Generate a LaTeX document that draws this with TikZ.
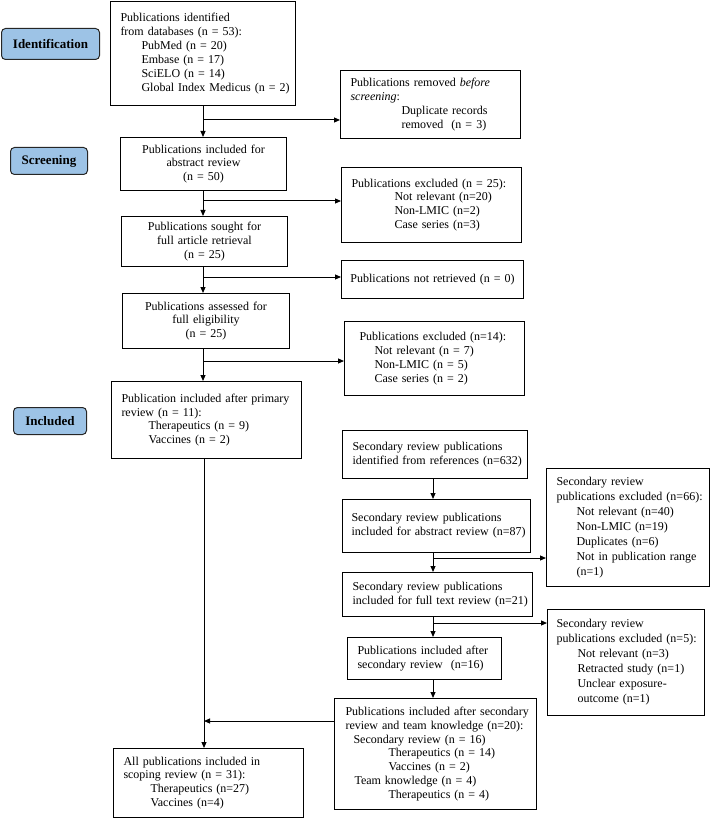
\documentclass[tikz,border=0pt]{standalone}
\usepackage{fontspec}
\setmainfont{Liberation Serif}
\usetikzlibrary{arrows.meta,calc}
\definecolor{lblue}{HTML}{9DC3E6}
\newcommand\ind[1]{\hspace*{#1pt}}
\begin{document}
\begin{tikzpicture}[x=1pt,y=-1pt,
  box/.style={draw=black, line width=1pt, anchor=north west, inner xsep=0pt, inner ysep=0pt, font=\fontsize{12}{13.9}\selectfont},
  lbox/.style={box, align=left},
  cbox/.style={box, align=center},
  stage/.style={draw=black!85, line width=1pt, fill=lblue, rounded corners=4pt, anchor=north west, inner sep=0pt, font=\fontsize{13}{15}\selectfont\bfseries},
  arr/.style={line width=1pt, -{Triangle[length=6pt,width=5pt]}},
  conn/.style={line width=1pt}
]
\useasboundingbox (0,0) rectangle (710,818);

% stage labels
\node[stage, minimum width=98pt, minimum height=31pt] (lid) at (1,28) {Identification};
\node[stage, minimum width=77pt, minimum height=27pt] (lsc) at (10,147) {Screening};
\node[stage, minimum width=73pt, minimum height=27pt] (lin) at (13,407) {Included};

% main chain
\node[lbox, text width=185pt, minimum height=104pt] (ident) at (110,1)
  {\leftskip=10pt Publications identified\\from databases (n = 53):\\\ind{21}PubMed (n = 20)\\\ind{21}Embase (n = 17)\\\ind{21}SciELO (n = 14)\\\ind{21}Global Index Medicus (n = 2)\par};
\node[lbox, text width=180pt, minimum height=68pt] (removed) at (340,70)
  {\leftskip=10pt Publications removed \textit{before}\\\textit{screening}:\\\ind{51}Duplicate records\\\ind{51}removed\ \ (n = 3)\par};
\node[cbox, text width=166pt, minimum height=53pt] (abs) at (120,137)
  {Publications included for\\abstract review\\(n = 50)};
\node[lbox, text width=180pt, minimum height=75pt] (excla) at (341,167)
  {\leftskip=10pt Publications excluded (n = 25):\\\ind{43}Not relevant (n=20)\\\ind{43}Non-LMIC (n=2)\\\ind{43}Case series (n=3)\par};
\node[cbox, text width=166pt, minimum height=50pt] (sought) at (121,216)
  {Publications sought for\\full article retrieval\\(n = 25)};
\node[cbox, text width=182pt, minimum height=38pt] (notret) at (341,260)
  {Publications not retrieved (n = 0)};
\node[cbox, text width=167pt, minimum height=55pt] (assessed) at (122,293)
  {Publications assessed for\\full eligibility\\(n = 25)};
\node[lbox, text width=180pt, minimum height=74pt] (exclb) at (344,321)
  {\leftskip=15pt Publications excluded (n=14):\\\ind{15}Not relevant (n = 7)\\\ind{15}Non-LMIC (n = 5)\\\ind{15}Case series (n = 2)\par};
\node[lbox, text width=190pt, minimum height=77pt] (primary) at (111,381)
  {\leftskip=10pt Publication included after primary\\review (n = 11):\\\ind{27}Therapeutics (n = 9)\\\ind{27}Vaccines (n = 2)\par};
\node[lbox, text width=190pt, minimum height=69pt] (final) at (113,748)
  {\leftskip=10pt All publications included in\\scoping review (n = 31):\\\ind{27}Therapeutics (n=27)\\\ind{27}Vaccines (n=4)\par};

% secondary chain
\node[lbox, text width=185pt, minimum height=48pt] (secid) at (342,430)
  {\leftskip=10pt Secondary review publications\\identified from references (n=632)\par};
\node[lbox, text width=188pt, minimum height=53pt] (secabs) at (342,499)
  {\leftskip=9pt Secondary review publications\\included for abstract review (n=87)\par};
\node[lbox, text width=163pt, minimum height=118pt, font=\fontsize{12}{15}\selectfont] (exclc) at (546,468)
  {\leftskip=10pt Secondary review\\publications excluded (n=66):\\\ind{20}Not relevant (n=40)\\\ind{20}Non-LMIC (n=19)\\\ind{20}Duplicates (n=6)\\\ind{20}Not in publication range\\\ind{20}(n=1)\par};
\node[lbox, text width=190pt, minimum height=44pt] (fulltext) at (342,572)
  {\leftskip=10pt Secondary review publications\\included for full text review (n=21)\par};
\node[lbox, text width=157pt, minimum height=106pt, font=\fontsize{12}{15}\selectfont] (excld) at (547,609)
  {\leftskip=9pt Secondary review\\publications excluded (n=5):\\\ind{21}Not relevant (n=3)\\\ind{21}Retracted study (n=1)\\\ind{21}Unclear exposure-\\\ind{21}outcome (n=1)\par};
\node[lbox, text width=154pt, minimum height=42pt] (after) at (347,637)
  {\leftskip=10pt Publications included after\\secondary review\ \ (n=16)\par};
\node[lbox, text width=202pt, minimum height=111pt] (team) at (334,698)
  {\leftskip=11pt Publications included after secondary\\review and team knowledge (n=20):\\\ind{8}Secondary review (n = 16)\\\ind{43}Therapeutics (n = 14)\\\ind{43}Vaccines (n = 2)\\\ind{9}Team knowledge (n = 4)\\\ind{43}Therapeutics (n = 4)\par};

% connector helper coordinates
\coordinate (m) at (203,0);
\coordinate (p) at (204,0);
\coordinate (s) at (433,0);
\coordinate (b1) at (203,120);
\coordinate (b2) at (203,201);
\coordinate (b3) at (203,277);
\coordinate (b4) at (203,361);
\coordinate (b5) at (433,558);
\coordinate (b6) at (433,623);
\coordinate (j) at (204,721);

% main chain connectors
\draw[arr] (m |- ident.south) -- (m |- abs.north);
\draw[arr] (b1) -- (b1 -| removed.west);
\draw[arr] (m |- abs.south) -- (m |- sought.north);
\draw[arr] (b2) -- (b2 -| excla.west);
\draw[arr] (m |- sought.south) -- (m |- assessed.north);
\draw[arr] (b3) -- (b3 -| notret.west);
\draw[arr] (m |- assessed.south) -- (m |- primary.north);
\draw[arr] (b4) -- (b4 -| exclb.west);
\draw[arr] (p |- primary.south) -- (p |- final.north);

% secondary connectors
\draw[arr] (s |- secid.south) -- (s |- secabs.north);
\draw[arr] (s |- secabs.south) -- (s |- fulltext.north);
\draw[arr] (b5) -- (b5 -| exclc.west);
\draw[arr] (s |- fulltext.south) -- (s |- after.north);
\draw[arr] (b6) -- (b6 -| excld.west);
\draw[arr] (s |- after.south) -- (s |- team.north);
\draw[arr] (j -| team.west) -- (j);
\end{tikzpicture}
\end{document}
